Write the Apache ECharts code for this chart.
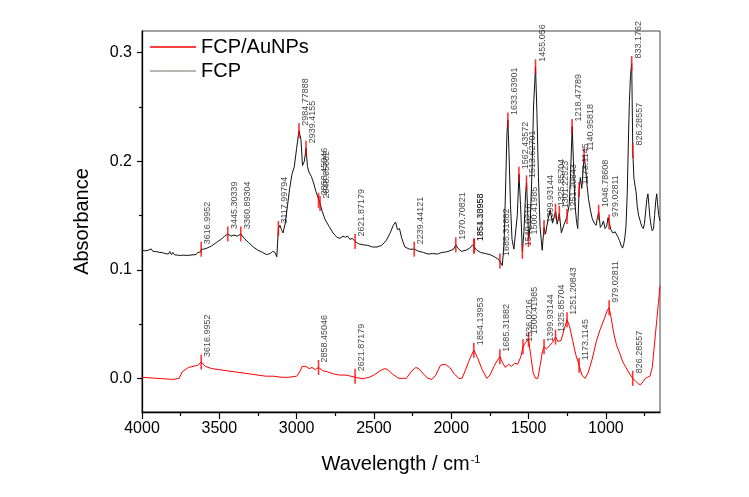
<!DOCTYPE html>
<html>
<head>
<meta charset="utf-8">
<script src="https://cdn.jsdelivr.net/npm/echarts@6/dist/echarts.min.js"></script>
<style>html,body{margin:0;padding:0;background:#fff;}#c{width:749px;height:497px;}</style>
</head>
<body>
<div id="c"></div>
<script>
// ---- data ----
const xMajorTicks = [4000, 3500, 3000, 2500, 2000, 1500, 1000];
const xMinorTicks = [3750, 3250, 2750, 2250, 1750, 1250, 750];
const yMajorTicks = [0, 0.1, 0.2, 0.3];
const yMinorTicks = [0.05, 0.15, 0.25];

const fcpWave = [4000,3990,3980,3970,3960,3950,3940,3930,3920,3910,3900,3890,3880,3870,3860,3850,3840,3830,3820,3810,3800,3790,3780,3770,3760,3750,3740,3730,3720,3710,3700,3690,3680,3670,3660,3650,3640,3630,3620,
3617,3600,3580,3550,3520,3490,3465,3445,3425,3405,3385,3360,3340,3310,3280,3250,3220,3195,3170,3155,3140,3128,3118,3108,3098,3088,3075,3060,3045,3030,3015,3000,2985,2972,2962,2950,2939,2930,2920,2905,2890,2875,2860,2850,2835,2815,2790,2765,2740,2720,2700,2685,2670,2655,2640,2621,2600,2570,2540,2510,2480,2450,2420,2395,2375,2360,2348,2335,2320,2300,2270,2239,2210,2180,2150,2120,2090,2060,2030,2000,1985,1970,1958,1935,1905,1880,1862,1852,1835,1810,1780,1750,1720,1700,1685,1670,1658,1647,1640,1634,1627,1617,1607,1595,1585,1573,1562,1552,1540,1530,1520,1513,1506,1500,1490,1478,1468,1455,1446,1436,1426,1412,1400,1390,1375,1360,1345,1325,1315,1301,1288,1270,1251,1237,1228,1218,1210,1200,1190,1182,1173,1165,1156,1148,1141,1132,1122,1112,1100,1088,1075,1063,1055,1046,1036,1026,1016,1005,995,986,979,968,955,940,925,912,900,892,884,877,870,862,855,848,841,833,826,819,812,805,797,788,778,768,758,750,742,735,728,722,715,707,700,692,685,678,671,665,658,650];
const fcpAbs = [0.1180,0.1185,0.1175,0.1190,0.1180,0.1178,0.1192,0.1170,0.1185,0.1168,0.1180,0.1162,0.1178,0.1158,0.1175,0.1150,0.1165,0.1145,0.1168,0.1140,0.1160,0.1138,0.1155,0.1135,0.1152,0.1132,0.1150,0.1135,0.1148,0.1132,0.1150,0.1135,0.1152,0.1138,0.1155,0.1140,0.1160,0.1150,0.1165,
0.119,0.119,0.120,0.122,0.125,0.128,0.131,0.133,0.131,0.132,0.131,0.133,0.129,0.125,0.121,0.118,0.116,0.114,0.115,0.117,0.116,0.112,0.138,0.141,0.137,0.134,0.142,0.158,0.175,0.188,0.195,0.212,0.228,0.220,0.196,0.200,0.212,0.195,0.190,0.186,0.180,0.172,0.166,0.162,0.154,0.146,0.140,0.134,0.130,0.129,0.131,0.130,0.131,0.128,0.129,0.126,0.124,0.123,0.1225,0.121,0.121,0.1225,0.127,0.134,0.141,0.144,0.137,0.138,0.129,0.121,0.119,0.119,0.117,0.116,0.1145,0.115,0.1145,0.116,0.1165,0.118,0.119,0.123,0.120,0.117,0.118,0.120,0.123,0.122,0.118,0.116,0.115,0.114,0.112,0.110,0.108,0.104,0.125,0.185,0.225,0.238,0.210,0.160,0.128,0.119,0.118,0.150,0.188,0.160,0.117,0.135,0.168,0.180,0.155,0.128,0.140,0.190,0.250,0.287,0.245,0.185,0.140,0.118,0.139,0.133,0.146,0.155,0.143,0.154,0.142,0.152,0.134,0.142,0.149,0.160,0.190,0.232,0.200,0.160,0.145,0.138,0.174,0.185,0.175,0.190,0.205,0.195,0.178,0.165,0.155,0.147,0.143,0.141,0.148,0.153,0.139,0.141,0.145,0.138,0.140,0.148,0.144,0.137,0.134,0.135,0.131,0.127,0.122,0.120,0.124,0.130,0.140,0.170,0.215,0.255,0.278,0.290,0.210,0.185,0.178,0.172,0.158,0.150,0.145,0.140,0.138,0.143,0.155,0.165,0.170,0.160,0.148,0.140,0.136,0.138,0.150,0.163,0.170,0.160,0.150,0.145];

const aunpWave = [4000,3900,3800,3760,3740,3720,3700,3670,3640,3617,3590,3550,3500,3450,3400,3350,3300,3250,3200,3150,3100,3050,3000,2980,2965,2940,2920,2900,2880,2858,2830,2800,2760,2720,2680,2650,2621,2590,2560,2530,2500,2460,2430,2410,2380,2340,2310,2290,2260,2230,2210,2180,2150,2125,2100,2070,2040,2010,1980,1950,1930,1910,1880,1854,1830,1800,1770,1750,1720,1700,1685,1670,1650,1630,1610,1590,1570,1550,1536,1520,1500,1485,1470,1455,1440,1425,1410,1400,1385,1365,1345,1325,1310,1290,1270,1251,1235,1215,1195,1173,1155,1135,1115,1090,1060,1037,1010,990,979,965,950,930,910,890,870,850,826,805,790,775,760,745,730,715,700,690,680,670,660,650];
const aunpAbs = [0.001,0.000,-0.001,0.000,0.006,0.008,0.010,0.011,0.012,0.015,0.011,0.009,0.008,0.007,0.006,0.005,0.004,0.003,0.002,0.002,0.001,0.001,0.002,0.006,0.011,0.011,0.009,0.010,0.008,0.010,0.007,0.006,0.004,0.003,0.003,0.002,0.001,0.000,0.000,0.001,0.003,0.007,0.009,0.008,0.004,0.000,0.000,0.000,0.006,0.010,0.009,0.004,0.000,-0.001,0.003,0.012,0.013,0.010,0.004,0.000,0.000,0.007,0.018,0.026,0.019,0.008,0.000,0.003,0.012,0.017,0.020,0.015,0.010,0.013,0.011,0.014,0.013,0.020,0.029,0.033,0.036,0.020,0.005,0.000,0.000,0.012,0.025,0.029,0.027,0.030,0.033,0.038,0.034,0.035,0.045,0.054,0.048,0.035,0.022,0.012,0.003,0.000,0.005,0.017,0.035,0.045,0.055,0.063,0.065,0.055,0.042,0.030,0.023,0.015,0.010,0.005,0.000,-0.003,-0.005,-0.006,-0.003,0.000,0.001,0.002,0.010,0.025,0.040,0.055,0.070,0.085];

const fcpPeakWave = [3616.9952,3445.30339,3360.89304,3117.99794,2984.77888,2939.4155,2858.45046,2848.65682,2621.87179,2239.44121,1970.70821,1854.13953,1851.30956,1685.31882,1633.63901,1562.43572,1540.0216,1513.62701,1500.41985,1455.056,1399.93144,1325.85704,1301.22523,1251.20843,1218.47789,1173.1145,1140.95818,1046.78608,979.02811,833.1762,826.28557];
const fcpPeakAbs = [0.119,0.133,0.133,0.138,0.228,0.212,0.164,0.161,0.126,0.119,0.123,0.122,0.122,0.108,0.238,0.188,0.117,0.180,0.128,0.287,0.139,0.154,0.152,0.149,0.232,0.174,0.205,0.153,0.144,0.290,0.210];

const aunpPeakWave = [3616.9952,2858.45046,2621.87179,1854.13953,1685.31882,1536.0216,1500.41985,1399.93144,1325.85704,1251.20843,1173.1145,979.02811,826.28557];
const aunpPeakAbs = [0.015,0.010,0.002,0.026,0.020,0.029,0.036,0.029,0.038,0.054,0.012,0.065,0.000];

// ---- chart ----
const zip = (a, b) => a.map((v, i) => [v, b[i]]);
const font = 'Liberation Sans, Arial, sans-serif';
const chart = echarts.init(document.getElementById('c'), null, {renderer: 'canvas'});

const peakLabel = {
  show: true,
  formatter: p => String(p.value[0]),
  rotate: 90,
  position: [2.8, 2.5],
  align: 'left',
  verticalAlign: 'top',
  fontSize: 9,
  fontFamily: font,
  color: '#111'
};

chart.setOption({
  animation: false,
  backgroundColor: '#fff',
  grid: {left: 142, right: 89, top: 31, bottom: 85, show: true, borderColor: '#444', borderWidth: 1, backgroundColor: 'transparent'},
  legend: {
    left: 145, top: 32, orient: 'vertical', itemWidth: 46, itemHeight: 1.5, itemGap: 4, icon: 'rect',
    textStyle: {fontSize: 20, fontFamily: font, color: '#000'},
    data: [
      {name: 'FCP/AuNPs', itemStyle: {color: '#ff0000'}},
      {name: 'FCP', itemStyle: {color: '#9aa09a'}}
    ]
  },
  xAxis: [{
    type: 'value', min: 650, max: 4000, inverse: true,
    name: 'Wavelength / cm{sup|-1}', nameLocation: 'middle', nameGap: 42,
    nameTextStyle: {fontSize: 20, fontFamily: font, color: '#000',
      rich: {sup: {fontSize: 11, fontFamily: font, color: '#000', verticalAlign: 'top', padding: [0, 0, 10, 1]}}},
    axisLine: {show: true, onZero: false, lineStyle: {color: '#000', width: 1.3}},
    axisTick: {show: true, inside: false, length: 7, customValues: xMajorTicks, lineStyle: {color: '#000', width: 1.2}},
    axisLabel: {show: true, margin: 9, fontSize: 16, fontFamily: font, color: '#000', customValues: xMajorTicks, formatter: v => String(v)},
    splitLine: {show: false}
  }, {
    type: 'value', min: 650, max: 4000, inverse: true, position: 'bottom',
    axisLine: {show: false, onZero: false},
    axisTick: {show: true, inside: false, length: 4, customValues: xMinorTicks, lineStyle: {color: '#000', width: 1.2}},
    axisLabel: {show: false},
    splitLine: {show: false}
  }],
  yAxis: [{
    type: 'value', min: -0.031, max: 0.32,
    name: 'Absorbance', nameLocation: 'middle', nameGap: 50, nameRotate: 90,
    nameTextStyle: {fontSize: 20, fontFamily: font, color: '#000'},
    axisLine: {show: true, onZero: false, lineStyle: {color: '#000', width: 1.3}},
    axisTick: {show: true, inside: false, length: 5, customValues: yMajorTicks, lineStyle: {color: '#000', width: 1.2}},
    axisLabel: {show: true, margin: 10, fontSize: 16, fontFamily: font, color: '#000', customValues: yMajorTicks, formatter: v => v.toFixed(1)},
    splitLine: {show: false}
  }, {
    type: 'value', min: -0.031, max: 0.32, position: 'left',
    axisLine: {show: false, onZero: false},
    axisTick: {show: true, inside: false, length: 3, customValues: yMinorTicks, lineStyle: {color: '#000', width: 1.2}},
    axisLabel: {show: false},
    splitLine: {show: false}
  }],
  series: [
    {name: 'FCP/AuNPs', type: 'line', data: zip(aunpWave, aunpAbs), symbol: 'none', showSymbol: false, color: '#ff0000',
      lineStyle: {color: '#ff0000', width: 1}, z: 2},
    {name: 'FCP', type: 'line', data: zip(fcpWave, fcpAbs), symbol: 'none', showSymbol: false, color: '#111',
      lineStyle: {color: '#111', width: 1}, z: 2},
    {name: 'fcpPeaks', type: 'scatter', data: zip(fcpPeakWave, fcpPeakAbs), symbol: 'rect', symbolSize: [1.6, 15],
      itemStyle: {color: '#ff0000'}, label: peakLabel, z: 5, silent: true},
    {name: 'aunpPeaks', type: 'scatter', data: zip(aunpPeakWave, aunpPeakAbs), symbol: 'rect', symbolSize: [1.6, 15],
      itemStyle: {color: '#ff0000'}, label: peakLabel, z: 5, silent: true}
  ]
});
</script>
</body>
</html>
